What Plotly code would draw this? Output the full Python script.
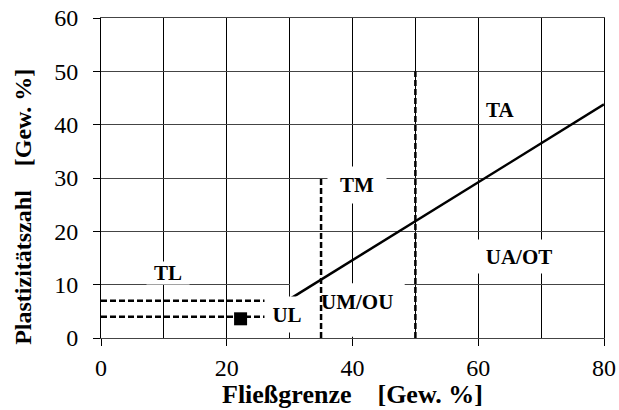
import plotly.graph_objects as go

# Plasticity chart (Casagrande) – liquid limit vs. plasticity index
a_line_x = [30, 80]          # A-line: Ip = 0.73 (wL - 20)
a_line_y = [7.3, 43.8]

limit35_x = [35, 35]
limit35_y = [0, 30]
limit50_x = [50, 50]
limit50_y = [0, 50]

ip7_x = [0, 26]
ip7_y = [7, 7]
ip4_x = [0, 26]
ip4_y = [4, 4]

sample_wl = [22.2]
sample_ip = [3.6]

zone_names = ["TL", "TM", "TA", "UL", "UM/OU", "UA/OT"]

x_ticks = [0, 20, 40, 60, 80]
y_ticks = [0, 10, 20, 30, 40, 50, 60]

SERIF = "Liberation Serif, Times New Roman, serif"
NB = "\u00a0"

fig = go.Figure()

dash_style = dict(color="black", width=2.5, dash="6px,3px")
for xs, ys in [(ip7_x, ip7_y), (ip4_x, ip4_y), (limit35_x, limit35_y), (limit50_x, limit50_y)]:
    fig.add_trace(go.Scatter(x=xs, y=ys, mode="lines", line=dash_style,
                             hoverinfo="skip", showlegend=False))

fig.add_trace(go.Scatter(x=a_line_x, y=a_line_y, mode="lines",
                         line=dict(color="black", width=2.5),
                         showlegend=False))

fig.add_trace(go.Scatter(x=sample_wl, y=sample_ip, mode="markers",
                         marker=dict(symbol="square", size=13, color="black"),
                         showlegend=False))

# white patch behind the UM/OU label (grid hidden, boundary lines kept)
fig.add_shape(type="rect", xref="x", yref="y", x0=30.05, x1=48.3, y0=0.25, y1=10.25,
              fillcolor="white", line=dict(width=0), layer="between")

# zone labels: (x, y, box width, box height, white box?)
label_place = {
    "TL": (10.66, 12.2, 42, 22, True),
    "TM": (40.7, 28.6, 58, 36, True),
    "TA": (63.5, 42.7, None, None, False),
    "UL": (29.6, 4.35, 36, 35, True),
    "UM/OU": (40.66, 6.75, None, None, False),
    "UA/OT": (66.5, 15.2, 82, 33, True),
}
for name in zone_names:
    x, y, w, h, box = label_place[name]
    ann = dict(x=x, y=y, xref="x", yref="y", text=f"<b>{name}</b>", showarrow=False,
               font=dict(family=SERIF, size=21, color="black"),
               xanchor="center", yanchor="middle", borderpad=0)
    if box:
        ann.update(bgcolor="white", width=w, height=h)
    fig.add_annotation(**ann)

# axis titles
fig.add_annotation(x=0.5, y=-0.2265, xref="paper", yref="paper",
                   text=f"<b>Fließgrenze{NB*4}[Gew. %]</b>", showarrow=False,
                   font=dict(family=SERIF, size=26, color="black"),
                   xanchor="center", yanchor="bottom", borderpad=0)
fig.add_annotation(x=-0.155, y=0.41, xref="paper", yref="paper",
                   text=f"<b>Plastizitätszahl{NB*4}[Gew. %]</b>", showarrow=False,
                   textangle=-90,
                   font=dict(family=SERIF, size=24, color="black"),
                   xanchor="center", yanchor="middle")

fig.update_layout(
    template="none",
    width=619, height=410,
    margin=dict(l=101, r=15, t=18, b=72),
    paper_bgcolor="white", plot_bgcolor="white",
    showlegend=False,
    xaxis=dict(range=[0, 80], tickvals=x_ticks, ticks="outside", ticklen=7,
               tickcolor="black", tickwidth=1, automargin=False,
               showgrid=True, gridcolor="black", gridwidth=1,
               minor=dict(dtick=10, showgrid=True, gridcolor="black", gridwidth=1, ticks=""),
               showline=True, linecolor="#444", linewidth=1, mirror=True,
               zeroline=False, ticklabelstandoff=1, ticklabeloverflow="allow",
               tickfont=dict(family=SERIF, size=24, color="black")),
    yaxis=dict(range=[0, 60], tickvals=y_ticks, ticks="outside", ticklen=7,
               tickcolor="black", tickwidth=1, automargin=False,
               showgrid=True, gridcolor="#444", gridwidth=1,
               showline=True, linecolor="black", linewidth=1, mirror=True,
               zeroline=False, ticklabelstandoff=10, ticklabeloverflow="allow",
               tickfont=dict(family=SERIF, size=24, color="black")),
)

fig.write_html("out.html")
